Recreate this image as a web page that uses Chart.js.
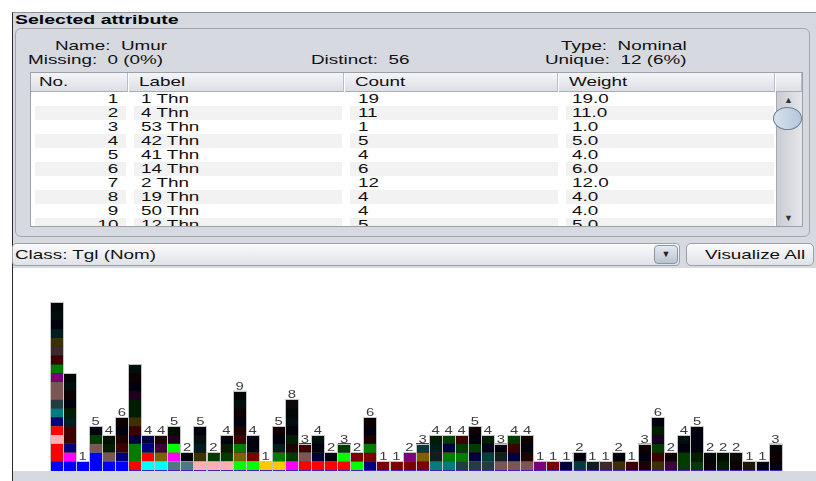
<!DOCTYPE html>
<html>
<head>
<meta charset="utf-8">
<script src="https://cdn.jsdelivr.net/npm/chart.js@4.4.1/dist/chart.umd.min.js"></script>
<style>
  body { margin: 0; width: 816px; height: 481px; overflow: hidden; background: #fff; position: relative;
         font-family: "Liberation Sans", Arial, sans-serif; font-size: 13px; color: #111; }
  .abs { position: absolute; white-space: nowrap; }
  .sx { display: inline-block; transform: scaleX(1.45); transform-origin: 0 0; }
  .sxr { display: inline-block; transform: scaleX(1.45); transform-origin: 100% 0; }
  #frame { left: 12px; top: 12px; width: 804px; height: 469px; background: #d6d9df;
           border-left: 1px solid #2b2b2b; border-top: 1px solid #8d929a; }
  #panel { left: 15px; top: 28px; width: 793px; height: 207px; border: 1px solid #a2a7af; border-radius: 6px; }
  #table { left: 30px; top: 72px; width: 771px; height: 153px; border: 1px solid #9ba1a9; background: #fff; overflow: hidden; }
  .hcell { top: 0; height: 18px; line-height: 18px; border-right: 1px solid #b9bec5;
           background: linear-gradient(#f4f5f7, #dcdfe4); border-bottom: 1px solid #a9aeb6; }
  .row { left: 0; height: 14px; line-height: 14px; width: 745px; }
  .cellbg { top: 0; height: 14px; background: #f2f2f2; }
  #scroll { left: 745px; top: 19px; width: 25px; height: 134px; background: linear-gradient(90deg, #c9ccd2, #e4e6ea); border-left: 1px solid #a4a9b0; }
  .btn { border: 1px solid #9ba1a9; border-radius: 5px; background: linear-gradient(#fbfbfc, #dfe2e7); }
  #plot { left: 13px; top: 268px; width: 803px; height: 203px; background: #fff; }
</style>
</head>
<body>
<div id="frame" class="abs"></div>
<div class="abs" style="left:15px;top:12px;height:15px;line-height:15px;font-weight:bold;color:#000;"><span class="sx" style="transform:scaleX(1.5)">Selected attribute</span></div>
<div id="panel" class="abs"></div>

<div class="abs" style="left:55px;top:38px;"><span class="sx">Name:&nbsp; Umur</span></div>
<div class="abs" style="left:28px;top:52px;"><span class="sx">Missing:&nbsp; 0 (0%)</span></div>
<div class="abs" style="left:311px;top:52px;"><span class="sx">Distinct:&nbsp; 56</span></div>
<div class="abs" style="left:561px;top:38px;"><span class="sx">Type:&nbsp; Nominal</span></div>
<div class="abs" style="left:545px;top:52px;"><span class="sx">Unique:&nbsp; 12 (6%)</span></div>

<div id="table" class="abs"></div>

<div class="abs btn" style="left:12px;top:243px;width:666px;height:21px;border-radius:4px;"></div>
<div class="abs" style="left:15px;top:247px;"><span class="sx">Class: Tgl (Nom)</span></div>
<div class="abs" style="left:654px;top:245px;width:22px;height:17px;border:1px solid #8e959f;border-radius:4px;background:linear-gradient(#e3e9f1,#b9c4d2);font-size:9px;line-height:17px;text-align:center;color:#222;">&#9660;</div>
<div class="abs btn" style="left:686px;top:243px;width:126px;height:21px;line-height:21px;"></div>
<div class="abs" style="left:705px;top:247px;"><span class="sx">Visualize All</span></div>

<div id="plot" class="abs"><canvas id="histo" width="803" height="203"></canvas></div>

<script>
// attribute table rows (first ten visible)
const tableNo = [1, 2, 3, 4, 5, 6, 7, 8, 9, 10];
const tableLabel = ['1 Thn', '4 Thn', '53 Thn', '42 Thn', '41 Thn', '14 Thn', '2 Thn', '19 Thn', '50 Thn', '12 Thn'];
const tableCount = [19, 11, 1, 5, 4, 6, 12, 4, 4, 5];
const tableWeight = ['19.0', '11.0', '1.0', '5.0', '4.0', '6.0', '12.0', '4.0', '4.0', '5.0'];

// histogram: count per distinct value of Umur
const barCounts = [19, 11, 1, 5, 4, 6, 12, 4, 4, 5, 2, 5, 2, 4, 9, 4, 1, 5, 8, 3,
                   4, 2, 3, 2, 6, 1, 1, 2, 3, 4, 4, 4, 5, 4, 3, 4, 4, 1, 1, 1,
                   2, 1, 1, 2, 1, 3, 6, 2, 4, 5, 2, 2, 2, 1, 1, 3];

// class (Tgl) index of every instance in each bar, bottom to top
const barStacks = [
  [0,1,1,4,8,10,12,13,14,14,17,19,21,24,26,32,40,42,43],
  [0,7,10,21,21,32,35,40,41,42,43],
  [0],
  [0,0,14,25,40],
  [0,14,39,45],
  [0,10,21,31,40,41],
  [8,15,15,20,21,26,35,35,37,40,41,42],
  [2,8,10,20],
  [2,16,27,31],
  [3,7,9,37,45],
  [3,40],
  [4,26,32,33,40],
  [4,25],
  [4,25,35,40],
  [5,16,19,21,31,40,41,42,43],
  [5,18,40,40],
  [6],
  [6,15,32,40,41],
  [7,25,31,35,40,42,43,44],
  [8,14,21],
  [8,20,40,42],
  [8,40],
  [8,9,25],
  [9,18],
  [10,18,19,31,40,41],
  [11],
  [11],
  [11,17],
  [11,16,22],
  [12,23,32,35],
  [12,15,20,25],
  [13,19,25,28],
  [13,20,29,40,41],
  [13,22,30,35],
  [14,23,40],
  [14,20,21,25],
  [14,31,40,41],
  [17],
  [18],
  [20],
  [22,40],
  [23],
  [24],
  [26,40],
  [28],
  [31,40,41],
  [26,28,29,37,39,40],
  [27,41],
  [29,29,42,40],
  [29,35,40,40,40],
  [41,43],
  [35,45],
  [41,44],
  [36],
  [40],
  [40,41,43]
];

// weka default class colours, darkened for higher indices
const baseColors = [[0,0,255],[255,0,0],[0,255,255],[75,123,130],[255,175,175],
                    [0,255,0],[255,200,0],[255,0,255],[255,0,0],[0,255,0]];
function classColor(i) {
  let [r, g, b] = baseColors[i % 10];
  const n = Math.floor(i / 10) * 2;
  for (let k = 0; k < n; k++) {
    r = Math.floor(r * 0.7); g = Math.floor(g * 0.7); b = Math.floor(b * 0.7);
  }
  return 'rgb(' + r + ',' + g + ',' + b + ')';
}

// --- table ---
(function () {
  const t = document.getElementById('table');
  const cols = [
    { name: 'No.', left: 0, width: 97 },
    { name: 'Label', left: 98, width: 215 },
    { name: 'Count', left: 314, width: 213 },
    { name: 'Weight', left: 528, width: 216 },
    { name: '', left: 745, width: 26 }
  ];
  cols.forEach(function (c) {
    const h = document.createElement('div');
    h.className = 'abs hcell';
    h.style.left = c.left + 'px';
    h.style.width = (c.width - 1) + 'px';
    const s = document.createElement('span');
    s.className = 'abs';
    s.style.left = (c.name === 'No.' ? 8 : 10) + 'px';
    s.innerHTML = '<span class="sx">' + c.name + '</span>';
    h.appendChild(s);
    t.appendChild(h);
  });
  for (let i = 0; i < tableNo.length; i++) {
    const r = document.createElement('div');
    r.className = 'abs row';
    r.style.top = (19 + i * 14) + 'px';
    if (i % 2 === 1) {
      [[4, 91], [103, 208], [319, 208], [535, 208]].forEach(function (b) {
        const g = document.createElement('div');
        g.className = 'abs cellbg';
        g.style.left = b[0] + 'px';
        g.style.width = b[1] + 'px';
        r.appendChild(g);
      });
    }
    const vals = [tableNo[i], tableLabel[i], tableCount[i], tableWeight[i]];
    const xs = [null, 110, 327, 541];
    vals.forEach(function (v, k) {
      const s = document.createElement('span');
      s.className = 'abs';
      if (k === 0) {
        s.style.right = (745 - 87) + 'px';
        s.innerHTML = '<span class="sxr">' + v + '</span>';
      } else {
        s.style.left = xs[k] + 'px';
        s.innerHTML = '<span class="sx">' + v + '</span>';
      }
      r.appendChild(s);
    });
    t.appendChild(r);
  }
  const sc = document.createElement('div');
  sc.id = 'scroll';
  sc.className = 'abs';
  sc.innerHTML =
    '<div class="abs" style="left:7px;top:3px;font-size:9px;color:#333;">&#9650;</div>' +
    '<div class="abs" style="left:-4px;top:15px;width:27px;height:21px;border:1px solid #6d7f93;border-radius:50%;background:linear-gradient(90deg,#d6e2ef,#b4c7dc);"></div>' +
    '<div class="abs" style="left:7px;top:121px;font-size:9px;color:#333;">&#9660;</div>';
  t.appendChild(sc);
})();

// --- histogram ---
const categories = barCounts.map(function (_, i) { return String(i + 1); });
const usedClasses = [];
barStacks.forEach(function (s) { s.forEach(function (c) { if (usedClasses.indexOf(c) < 0) usedClasses.push(c); }); });
usedClasses.sort(function (a, b) { return a - b; });

const datasets = usedClasses.map(function (c) {
  return {
    label: 'class ' + c,
    data: barStacks.map(function (s) { return s.filter(function (v) { return v === c; }).length; }),
    backgroundColor: classColor(c),
    borderWidth: 0,
    inflateAmount: 0.6,
    barPercentage: 0.9,
    categoryPercentage: 1.0
  };
});

const barDecor = {
  id: 'barDecor',
  afterDatasetsDraw(chart) {
    const ctx = chart.ctx;
    const y = chart.scales.y;
    const meta = chart.getDatasetMeta(0);
    ctx.save();
    ctx.font = '11px "Liberation Sans", Arial, sans-serif';
    ctx.textAlign = 'center';
    ctx.textBaseline = 'alphabetic';
    barCounts.forEach(function (n, i) {
      const bar = meta.data[i];
      const w = bar.width;
      const top = y.getPixelForValue(n);
      const base = y.getPixelForValue(0);
      ctx.strokeStyle = '#c4c4c4';
      ctx.lineWidth = 1;
      ctx.strokeRect(Math.round(bar.x - w / 2) - 0.5, Math.round(top) - 0.5, Math.round(w) + 1, Math.round(base - top) + 1);
      if (n < 10) {
        ctx.fillStyle = '#3c3c3c';
        ctx.save();
        ctx.translate(bar.x, top - 2);
        ctx.scale(1.35, 1);
        ctx.fillText(String(n), 0, 0);
        ctx.restore();
      }
    });
    ctx.restore();
  }
};

new Chart(document.getElementById('histo'), {
  type: 'bar',
  data: { labels: categories, datasets: datasets },
  options: {
    responsive: false,
    animation: false,
    layout: { padding: { left: 37, right: 34, top: 0, bottom: 0 } },
    plugins: { legend: { display: false }, tooltip: { enabled: false } },
    scales: {
      x: { stacked: true, display: false },
      y: { stacked: true, display: false, min: 0, max: 23 }
    }
  },
  plugins: [barDecor]
});
</script>
</body>
</html>
